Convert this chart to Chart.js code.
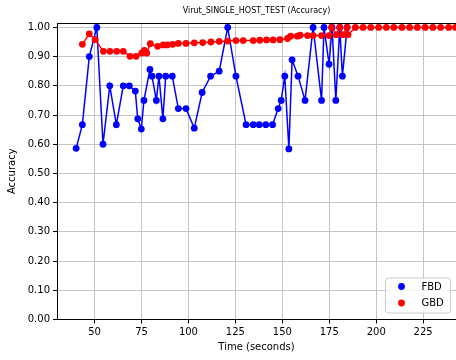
<!DOCTYPE html>
<html>
<head>
<meta charset="utf-8">
<script src="https://cdn.jsdelivr.net/npm/chart.js@4/dist/chart.umd.min.js"></script>
<style>
  html, body { margin: 0; padding: 0; background: #fff; }
  #wrap { width: 456px; height: 360px; }
</style>
</head>
<body>
<div id="wrap"><canvas id="c" width="456" height="360"></canvas></div>
<script>
/* Virut_SINGLE_HOST_TEST — accuracy over time, FBD vs GBD */
const fbdTime = [40.2, 43.5, 47.2, 51.2, 54.5, 58.1, 61.6, 65.3, 68.5, 71.7, 73.0, 74.9, 76.3, 79.5,
  80.6, 82.9, 84.3, 86.4, 87.9, 91.4, 94.6, 98.7, 103.1, 107.3, 111.8, 116.4, 120.9, 125.3,
  130.7, 134.5, 137.7, 141.2, 144.8, 147.8, 149.4, 151.3, 153.5, 155.2, 158.4, 162.1, 166.4,
  170.9, 172.2, 174.9, 176.5, 178.5, 180.6, 182.0, 184.5];
const fbdAcc = [0.586, 0.667, 0.900, 1.000, 0.600, 0.800, 0.667, 0.800, 0.800, 0.782, 0.687, 0.652, 0.750, 0.856,
  0.833, 0.750, 0.833, 0.687, 0.833, 0.833, 0.722, 0.722, 0.655, 0.777, 0.833, 0.850, 1.000, 0.833,
  0.667, 0.667, 0.667, 0.667, 0.667, 0.722, 0.750, 0.833, 0.584, 0.889, 0.833, 0.750, 1.000,
  0.750, 1.000, 0.874, 1.000, 0.750, 1.000, 0.833, 1.000];

const gbdTime = [43.5, 47.2, 50.3, 54.7, 58.2, 61.8, 65.3, 68.9, 72.1, 75.1, 76.5, 77.8, 79.7, 83.6,
  86.6, 88.7, 91.6, 94.6, 98.7, 103.1, 107.6, 112.0, 116.4, 120.9, 125.3, 129.2, 134.5, 138.0,
  141.6, 145.1, 148.7, 152.8, 154.5, 158.0, 159.5, 163.4, 166.4, 170.9, 174.9, 176.2, 178.8,
  180.6, 182.3, 184.5, 185.0, 188.9, 193.0, 197.1, 201.3, 205.4, 209.4, 213.7, 217.8, 221.9,
  226.1, 230.2, 234.3, 238.6, 242.3];
const gbdAcc = [0.942, 0.978, 0.958, 0.918, 0.918, 0.918, 0.918, 0.901, 0.901, 0.912, 0.921, 0.912, 0.944, 0.935,
  0.940, 0.940, 0.942, 0.945, 0.945, 0.947, 0.948, 0.950, 0.952, 0.953, 0.955, 0.955, 0.955, 0.956,
  0.957, 0.957, 0.958, 0.962, 0.970, 0.970, 0.973, 0.972, 0.972, 0.972, 0.972, 1.000, 0.975,
  1.000, 0.975, 1.000, 0.975, 1.000, 1.000, 1.000, 1.000, 1.000, 1.000, 1.000, 1.000, 1.000,
  1.000, 1.000, 1.000, 1.000, 1.000];

const xTicks = [50, 75, 100, 125, 150, 175, 200, 225];
const yTicks = [0, 0.05, 0.10, 0.15, 0.20, 0.25, 0.30, 0.35, 0.40, 0.45, 0.50,
  0.55, 0.60, 0.65, 0.70, 0.75, 0.80, 0.85, 0.90, 0.95, 1.00];

const FONT = "'DejaVu Sans', sans-serif";
const pts = (xs, ys) => xs.map((x, i) => ({ x, y: ys[i] }));

// matplotlib-ish extras: top spine, axes-centred title, boxed legend in the lower right
const frame = {
  id: "frame",
  afterDraw(chart) {
    const { ctx, chartArea: a } = chart;
    ctx.save();
    ctx.strokeStyle = "#000"; ctx.lineWidth = 1;
    ctx.beginPath(); ctx.moveTo(a.left, a.top + 0.5); ctx.lineTo(a.right, a.top + 0.5); ctx.stroke();

    ctx.fillStyle = "#000"; ctx.font = "8px " + FONT;
    ctx.textAlign = "center"; ctx.textBaseline = "middle";
    ctx.fillText("Virut_SINGLE_HOST_TEST (Accuracy)", (a.left + a.right) / 2, 11);

    const bx = a.right - 70.5, by = a.bottom - 41.5, bw = 65, bh = 35;
    ctx.beginPath(); ctx.roundRect(bx, by, bw, bh, 3);
    ctx.fillStyle = "rgba(255,255,255,0.8)"; ctx.fill();
    ctx.strokeStyle = "#cccccc"; ctx.stroke();
    [["FBD", "#0000ff"], ["GBD", "#ff0000"]].forEach(([lbl, col], i) => {
      const cy = by + 8.5 + i * 16.5;
      ctx.beginPath(); ctx.arc(bx + 16, cy, 3.4, 0, Math.PI * 2);
      ctx.fillStyle = col; ctx.fill();
      ctx.fillStyle = "#000"; ctx.font = "10px " + FONT;
      ctx.textAlign = "left"; ctx.textBaseline = "middle";
      ctx.fillText(lbl, bx + 36, cy + 0.5);
    });
    ctx.restore();
  },
};

new Chart(document.getElementById("c"), {
  type: "line",
  data: {
    datasets: [
      { label: "FBD", data: pts(fbdTime, fbdAcc), order: 1,
        borderColor: "#0000ff", backgroundColor: "#0000ff", borderWidth: 1.5,
        pointRadius: 3.4, pointBorderWidth: 0, pointBackgroundColor: "#0000ff", tension: 0 },
      { label: "GBD", data: pts(gbdTime, gbdAcc), order: 0,
        borderColor: "#ff0000", backgroundColor: "#ff0000", borderWidth: 1.5,
        pointRadius: 3.4, pointBorderWidth: 0, pointBackgroundColor: "#ff0000", tension: 0 },
    ],
  },
  plugins: [frame],
  options: {
    responsive: false, animation: false, devicePixelRatio: 1,
    layout: { autoPadding: false, padding: { top: 23, left: 0, right: 0, bottom: 0 } },
    plugins: { legend: { display: false }, tooltip: { enabled: false }, title: { display: false } },
    scales: {
      x: {
        type: "linear", min: 30, max: 242.5,
        afterBuildTicks: s => { s.ticks = xTicks.map(v => ({ value: v })); },
        afterFit: s => { s.height = 40.5; },
        ticks: { color: "#000", font: { family: FONT, size: 10 }, padding: 3, maxRotation: 0,
          callback: v => String(v) },
        grid: { color: "#c4c4c4", lineWidth: 1, tickColor: "#000", tickLength: 4 },
        border: { display: true, color: "#000", width: 1 },
        title: { display: true, text: "Time (seconds)", color: "#000",
          font: { family: FONT, size: 10 }, padding: { top: 0, bottom: 7 } },
      },
      y: {
        type: "linear", min: 0, max: 1.015,
        afterBuildTicks: s => { s.ticks = yTicks.map(v => ({ value: v })); },
        afterFit: s => { s.width = 57; },
        ticks: { color: "#000", font: { family: FONT, size: 10 }, padding: 3,
          callback: v => v.toFixed(2) },
        grid: { color: "#c4c4c4", lineWidth: 1, tickColor: "#000", tickLength: 4 },
        border: { display: true, color: "#000", width: 1 },
        title: { display: true, text: "Accuracy", color: "#000",
          font: { family: FONT, size: 10 }, padding: { top: 6, bottom: 0 } },
      },
    },
  },
});
</script>
</body>
</html>
